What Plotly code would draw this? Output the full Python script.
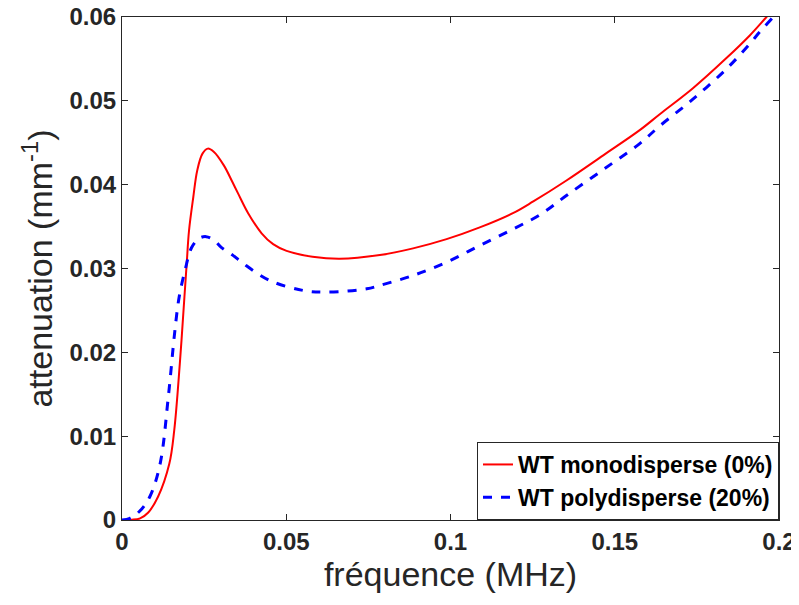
import plotly.graph_objects as go

# Data
f_mono = [0, 0.003, 0.0055, 0.008, 0.011, 0.0144, 0.0159, 0.0176, 0.019, 0.0197, 0.0204,
          0.0217, 0.0229, 0.0245, 0.0261, 0.028, 0.031, 0.0335, 0.0354, 0.0384, 0.0425, 0.046,
          0.0501, 0.058, 0.0663, 0.0785, 0.0886, 0.0988, 0.1089, 0.119, 0.1252, 0.1353,
          0.1465, 0.1576, 0.1637, 0.1738, 0.184, 0.1911, 0.1962, 0.2]
a_mono = [0, 0.00003, 0.0002, 0.0009, 0.0028, 0.0067, 0.0107, 0.01865, 0.0266, 0.0306, 0.0345,
          0.0385, 0.0417, 0.0437, 0.0443, 0.0439, 0.0423, 0.0404, 0.0389, 0.0366, 0.0342, 0.0329,
          0.0321, 0.0314, 0.03115, 0.0316, 0.0324, 0.0335, 0.0349, 0.0366, 0.0380, 0.0405,
          0.0435, 0.0465, 0.0484, 0.0515, 0.0551, 0.0578, 0.0600, 0.0616]

f_poly = [0, 0.0024, 0.0055, 0.0085, 0.0116, 0.0141, 0.0161, 0.0174, 0.0192, 0.0212, 0.0235,
          0.0256, 0.028, 0.0303, 0.0337, 0.0369, 0.045, 0.0552, 0.0623, 0.0745, 0.0785,
          0.0886, 0.0988, 0.1089, 0.119, 0.1272, 0.1353, 0.1465, 0.1576, 0.1637, 0.1738,
          0.184, 0.1911, 0.1941, 0.1982, 0.2]
a_poly = [0, 0.0002, 0.0011, 0.0028, 0.0067, 0.0147, 0.0226, 0.0266, 0.0298, 0.0325, 0.0336,
          0.0338, 0.0334, 0.0325, 0.0316, 0.0306, 0.02857, 0.02738, 0.02718, 0.02758, 0.02798,
          0.02917, 0.03075, 0.03274, 0.0347, 0.0364, 0.0387, 0.0418, 0.0449, 0.0470, 0.0502,
          0.0538, 0.0568, 0.0582, 0.0600, 0.0609]

x_ticks = [0, 0.05, 0.1, 0.15, 0.2]
x_ticklabels = ["0", "0.05", "0.1", "0.15", "0.2"]
y_ticks = [0, 0.01, 0.02, 0.03, 0.04, 0.05, 0.06]
y_ticklabels = ["0", "0.01", "0.02", "0.03", "0.04", "0.05", "0.06"]

FONT = "Liberation Sans, Arial, sans-serif"
AX = "#262626"

fig = go.Figure()
fig.add_trace(go.Scatter(x=f_mono, y=a_mono, mode="lines", name="WT monodisperse (0%)",
                         line=dict(color="rgb(255,0,0)", width=2, shape="spline", smoothing=1.0)))
fig.add_trace(go.Scatter(x=f_poly, y=a_poly, mode="lines", name="WT polydisperse (20%)",
                         line=dict(color="rgb(0,0,255)", width=3, dash="dash", shape="spline", smoothing=1.0)))

axis_common = dict(showline=True, linecolor=AX, linewidth=1, mirror="ticks", ticks="inside",
                   ticklen=6, tickcolor=AX, showgrid=False, zeroline=False, automargin=False,
                   ticklabeloverflow="allow",
                   tickfont=dict(family=FONT, size=24, color=AX, weight="bold"))

# page body adds an 8px offset; size the figure to fit within the window
fig.update_layout(
    width=791, height=597,
    margin=dict(l=114, r=20, t=9, b=85),
    paper_bgcolor="white", plot_bgcolor="white",
    xaxis=dict(range=[0, 0.2], tickvals=x_ticks, ticktext=x_ticklabels,
               title=dict(text="fréquence (MHz)", font=dict(family=FONT, size=34, color=AX), standoff=4),
               **axis_common),
    yaxis=dict(range=[0, 0.06], tickvals=y_ticks, ticktext=y_ticklabels,
               title=dict(text="attenuation (mm<sup>-1</sup>)", font=dict(family=FONT, size=34, color=AX), standoff=6),
               **axis_common),
    legend=dict(x=1, y=0, xanchor="right", yanchor="bottom", bgcolor="white",
                bordercolor=AX, borderwidth=1,
                font=dict(family=FONT, size=23, color="black", weight="bold"),
                tracegroupgap=0, itemwidth=30),
    showlegend=True,
)

fig.write_html("out.html")
